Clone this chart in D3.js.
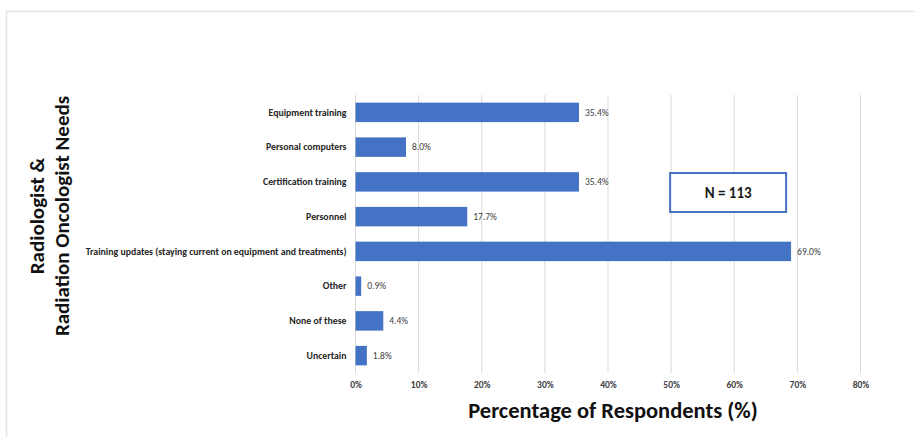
<!DOCTYPE html>
<html>
<head>
<meta charset="utf-8">
<script src="https://cdn.jsdelivr.net/npm/d3@7"></script>
<style>
  html, body { margin: 0; padding: 0; background: #fff; }
  svg { display: block; }
</style>
</head>
<body>
<svg id="chart" width="915" height="437"></svg>
<script>
const categories = [
  "Equipment training",
  "Personal computers",
  "Certification training",
  "Personnel",
  "Training updates (staying current on equipment and treatments)",
  "Other",
  "None of these",
  "Uncertain"
];
const values = [35.4, 8.0, 35.4, 17.7, 69.0, 0.9, 4.4, 1.8];
const tickValues = [0, 10, 20, 30, 40, 50, 60, 70, 80];
const annotation = "N = 113";
const xTitle = "Percentage of Respondents (%)";
const yTitleLines = ["Radiologist &", "Radiation Oncologist Needs"];

const svg = d3.select("#chart");
const font = "Calibri, Carlito, 'Open Sans', Lato, sans-serif";
const blue = "#4472C4";

// frame
svg.append("path")
  .attr("d", "M6.5,437 L6.5,11.5 L915,11.5")
  .attr("fill", "none").attr("stroke", "#e4e4e4").attr("stroke-width", 1.5);

const x = d3.scaleLinear().domain([0, 80]).range([355.5, 860.5]);
const y = d3.scaleBand().domain(categories).range([95, 373]).paddingInner(0.44).paddingOuter(0.22);

// gridlines
svg.append("g").selectAll("line").data(tickValues).join("line")
  .attr("x1", d => x(d)).attr("x2", d => x(d))
  .attr("y1", 95).attr("y2", 373)
  .attr("stroke", "#d9d9d9").attr("stroke-width", 1);

// x-axis tick labels
const xAxis = d3.axisBottom(x).tickValues(tickValues).tickFormat(d => d + "%").tickSize(0).tickPadding(0);
const gx = svg.append("g").attr("transform", "translate(0,381)").call(xAxis);
gx.select(".domain").remove();
gx.selectAll("text")
  .attr("font-family", font).attr("font-size", 9.5).attr("font-weight", "bold")
  .attr("fill", "#404040").attr("dy", "0.71em");

// y-axis category labels
const yAxis = d3.axisLeft(y).tickSize(0).tickPadding(9);
const gy = svg.append("g").attr("transform", "translate(355.5,0)").call(yAxis);
gy.select(".domain").remove();
gy.selectAll("text")
  .attr("font-family", font).attr("font-size", 9.8).attr("font-weight", "bold")
  .attr("fill", "#262626");

// bars
svg.append("g").selectAll("rect").data(values).join("rect")
  .attr("x", x(0))
  .attr("y", (d, i) => y(categories[i]))
  .attr("width", d => x(d) - x(0))
  .attr("height", y.bandwidth())
  .attr("fill", blue);

// value labels
svg.append("g").selectAll("text").data(values).join("text")
  .attr("x", d => x(d) + 6)
  .attr("y", (d, i) => y(categories[i]) + y.bandwidth() / 2)
  .attr("dy", "0.35em")
  .attr("font-family", font).attr("font-size", 9.5)
  .attr("fill", "#404040")
  .text(d => d.toFixed(1) + "%");

// annotation box
const bx = x(50) - 1, by = 173, bw = 116, bh = 39;
svg.append("rect").attr("x", bx).attr("y", by).attr("width", bw).attr("height", bh)
  .attr("fill", "#fff").attr("stroke", blue).attr("stroke-width", 2);
svg.append("text").attr("x", bx + bw / 2).attr("y", by + bh / 2).attr("dy", "0.35em")
  .attr("text-anchor", "middle").attr("font-family", font).attr("font-size", 15)
  .attr("font-weight", "bold").attr("fill", "#1a1a1a").text(annotation);

// x title
svg.append("text").attr("x", 613).attr("y", 418)
  .attr("text-anchor", "middle").attr("font-family", font).attr("font-size", 22.5)
  .attr("font-weight", "bold").attr("fill", "#111").text(xTitle);

// y title
const yt = svg.append("text").attr("transform", "translate(44,216) rotate(-90)")
  .attr("text-anchor", "middle").attr("font-family", font).attr("font-size", 21)
  .attr("font-weight", "bold").attr("fill", "#111");
yTitleLines.forEach((t, i) => {
  yt.append("tspan").attr("x", 0).attr("dy", i === 0 ? 0 : 25).text(t);
});
</script>
</body>
</html>
